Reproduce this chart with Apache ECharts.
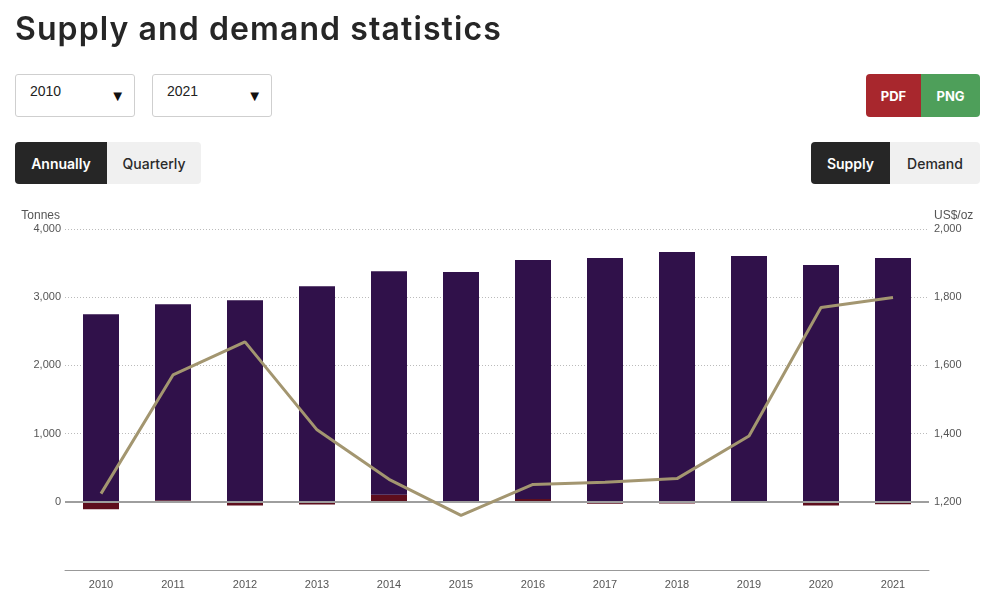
<!DOCTYPE html>
<html>
<head>
<meta charset="utf-8">
<script src="https://cdn.jsdelivr.net/npm/echarts@6/dist/echarts.min.js"></script>
<style>
  html, body { margin: 0; padding: 0; width: 992px; height: 613px; background: #fff; overflow: hidden; }
  #chart { position: absolute; left: 0; top: 0; width: 992px; height: 613px; }
  .ui { position: absolute; z-index: 2; font-family: Inter, "Open Sans", sans-serif; }
  #title { left: 15px; top: 13px; font-size: 32px; line-height: 32px; font-weight: 600; color: #262626; white-space: nowrap; letter-spacing: 1.1px; }
  .sel { height: 43px; border: 1px solid #cfcfcf; border-radius: 3px; box-sizing: border-box; background: #fff; font-family: "Liberation Sans", Arial, sans-serif; font-size: 14px; color: #222; }
  .sel .v { position: absolute; left: 14px; top: 8px; }
  .sel .a { position: absolute; right: 9px; top: 12px; font-size: 15px; color: #111; }
  .seg { display: flex; height: 42px; border-radius: 4px; overflow: hidden; font-size: 14px; font-weight: 500; }
  .seg div { display: flex; align-items: center; justify-content: center; height: 100%; }
  .dark { background: #262626; color: #fff; font-weight: 600; }
  .light { background: #f0f0f0; color: #2a2a2a; }
</style>
</head>
<body>
<div id="chart"></div>
<div id="title" class="ui">Supply and demand statistics</div>
<div class="ui sel" style="left:15px;top:74px;width:120px;"><span class="v">2010</span><span class="a">▼</span></div>
<div class="ui sel" style="left:152px;top:74px;width:120px;"><span class="v">2021</span><span class="a">▼</span></div>
<div class="ui seg" style="left:866px;top:74px;width:114px;height:43px;font-weight:700;font-size:13px;">
  <div style="width:55px;background:#a8272d;color:#fff;">PDF</div>
  <div style="width:59px;background:#4e9f5a;color:#fff;">PNG</div>
</div>
<div class="ui seg" style="left:15px;top:142px;width:186px;">
  <div class="dark" style="width:92px;">Annually</div>
  <div class="light" style="width:94px;">Quarterly</div>
</div>
<div class="ui seg" style="left:811px;top:142px;width:169px;">
  <div class="dark" style="width:79px;">Supply</div>
  <div class="light" style="width:90px;">Demand</div>
</div>
<script>
const years = ['2010','2011','2012','2013','2014','2015','2016','2017','2018','2019','2020','2021'];
const mineProduction = [2750, 2875, 2956, 3162, 3277, 3355, 3504, 3574, 3662, 3597, 3471, 3574];
const netProducerHedging = [-110, 22, -55, -40, 105, 13, 40, -30, -25, 6, -55, -35];
const goldPrice = [1224, 1572, 1669, 1411, 1266, 1160, 1251, 1257, 1268, 1393, 1770, 1799];

const axisFont = { fontFamily: '"Liberation Sans", Arial, sans-serif', fontSize: 11, color: '#555' };

const chart = echarts.init(document.getElementById('chart'), null, { renderer: 'canvas' });
chart.setOption({
  animation: false,
  grid: { left: 65, right: 63, top: 229, bottom: 43, containLabel: false },
  xAxis: {
    type: 'category',
    data: years,
    axisLine: { onZero: false, lineStyle: { color: '#999', width: 1 } },
    axisTick: { show: false },
    axisLabel: Object.assign({ margin: 9 }, axisFont),
    splitLine: { show: false }
  },
  yAxis: [
    {
      type: 'value', min: -1000, max: 4000, interval: 1000,
      name: 'Tonnes', nameLocation: 'end', nameGap: 7,
      nameTextStyle: Object.assign({ align: 'right', padding: [0, 5, 0, 0] }, axisFont, { fontSize: 12 }),
      axisLine: { show: false }, axisTick: { show: false },
      axisLabel: Object.assign({ margin: 4, formatter: v => v < 0 ? '' : v.toLocaleString('en-US') }, axisFont),
      splitLine: { show: true, lineStyle: { color: '#bbb', type: [1, 2], width: 1 } }
    },
    {
      type: 'value', min: 1000, max: 2000, interval: 200,
      name: 'US$/oz', nameLocation: 'end', nameGap: 7,
      nameTextStyle: Object.assign({ align: 'left', padding: [0, 0, 0, 5] }, axisFont, { fontSize: 12 }),
      axisLine: { show: false }, axisTick: { show: false },
      axisLabel: Object.assign({ margin: 5, formatter: v => v <= 1000 ? '' : v.toLocaleString('en-US') }, axisFont),
      splitLine: { show: false }
    }
  ],
  series: [
    {
      name: 'Net producer hedging', type: 'bar', stack: 'supply', data: netProducerHedging,
      barWidth: 36, itemStyle: { color: '#5e0e1d' }
    },
    {
      name: 'Mine production', type: 'bar', stack: 'supply', data: mineProduction,
      barWidth: 36, itemStyle: { color: '#30114a' },
      markLine: {
        silent: true, symbol: 'none', label: { show: false },
        lineStyle: { color: '#9e9e9e', type: 'solid', width: 2 },
        data: [{ yAxis: 0 }]
      }
    },
    {
      name: 'Gold price', type: 'line', yAxisIndex: 1, data: goldPrice,
      symbol: 'none', lineStyle: { color: '#a39670', width: 3 }, z: 5
    }
  ]
});
</script>
</body>
</html>
